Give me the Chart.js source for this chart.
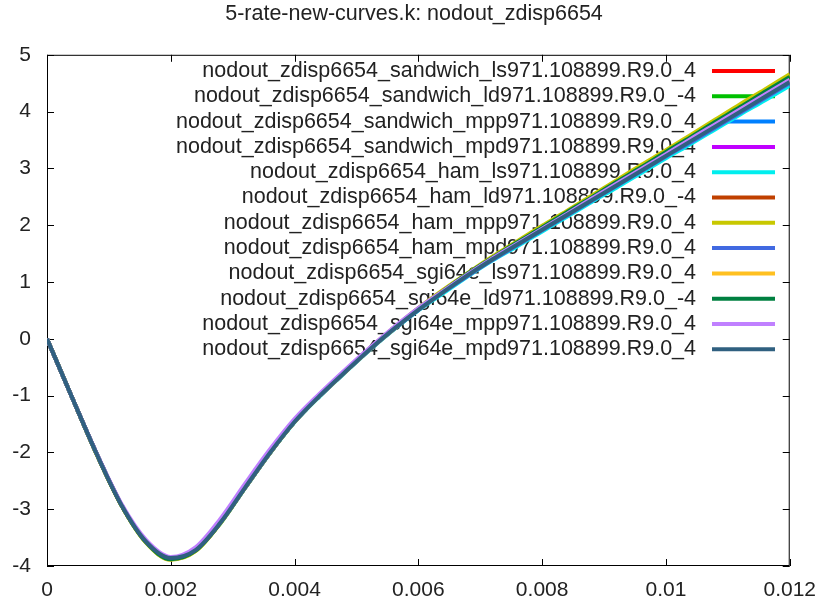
<!DOCTYPE html>
<html>
<head>
<meta charset="utf-8">
<script src="https://cdn.jsdelivr.net/npm/chart.js@4.4.1/dist/chart.umd.min.js"></script>
<style>
  html, body { margin: 0; padding: 0; background: #fff; }
  #wrap { width: 828px; height: 604px; }
</style>
</head>
<body>
<div id="wrap"><canvas id="myChart" width="828" height="604"></canvas></div>
<script>
// time axis (s)
var times = [0, 0.0004, 0.0008, 0.0012, 0.0016, 0.0020, 0.0024, 0.0028, 0.0032, 0.0036,
  0.0040, 0.0044, 0.0048, 0.0052, 0.0056, 0.0060, 0.0064, 0.0068, 0.0072, 0.0076,
  0.0080, 0.0084, 0.0088, 0.0092, 0.0096, 0.0100, 0.0104, 0.0108, 0.0112, 0.0116, 0.0120];

// z displacement, one list per run
var sandwichLs  = [0, -1.02, -2.02, -2.92, -3.57, -3.86, -3.72, -3.24, -2.62, -2.01, -1.46, -1.01, -0.60, -0.20, 0.17, 0.51, 0.82, 1.12, 1.40, 1.67, 1.93, 2.19, 2.45, 2.71, 2.97, 3.23, 3.49, 3.75, 4.01, 4.27, 4.53];
var sandwichLd  = [0, -1.02, -2.02, -2.92, -3.57, -3.87, -3.73, -3.24, -2.62, -2.01, -1.46, -1.00, -0.59, -0.19, 0.18, 0.53, 0.84, 1.14, 1.43, 1.69, 1.96, 2.22, 2.49, 2.75, 3.01, 3.28, 3.54, 3.81, 4.07, 4.34, 4.60];
var sandwichMpp = [0, -1.02, -2.02, -2.92, -3.58, -3.88, -3.72, -3.24, -2.62, -2.01, -1.46, -1.01, -0.60, -0.20, 0.17, 0.51, 0.82, 1.12, 1.40, 1.66, 1.92, 2.18, 2.44, 2.70, 2.96, 3.22, 3.48, 3.74, 4.00, 4.26, 4.52];
var sandwichMpd = [0, -1.02, -2.02, -2.92, -3.57, -3.86, -3.72, -3.24, -2.62, -2.01, -1.46, -1.01, -0.60, -0.20, 0.17, 0.52, 0.83, 1.13, 1.41, 1.67, 1.93, 2.20, 2.46, 2.72, 2.98, 3.24, 3.50, 3.77, 4.03, 4.29, 4.55];
var hamLs       = [0, -1.02, -2.02, -2.92, -3.57, -3.86, -3.72, -3.25, -2.63, -2.02, -1.47, -1.02, -0.61, -0.21, 0.16, 0.50, 0.80, 1.10, 1.38, 1.63, 1.89, 2.15, 2.41, 2.66, 2.92, 3.18, 3.43, 3.69, 3.95, 4.20, 4.46];
var hamLd       = [0, -1.02, -2.02, -2.92, -3.57, -3.87, -3.72, -3.24, -2.62, -2.01, -1.46, -1.01, -0.60, -0.19, 0.18, 0.52, 0.83, 1.14, 1.42, 1.68, 1.94, 2.21, 2.47, 2.73, 2.99, 3.26, 3.52, 3.78, 4.04, 4.31, 4.57];
var hamMpp      = [0, -1.02, -2.03, -2.93, -3.59, -3.89, -3.74, -3.25, -2.62, -2.01, -1.46, -1.00, -0.59, -0.18, 0.19, 0.54, 0.86, 1.16, 1.45, 1.72, 1.99, 2.25, 2.52, 2.79, 3.06, 3.32, 3.59, 3.86, 4.13, 4.39, 4.66];
var hamMpd      = [0, -1.02, -2.02, -2.92, -3.57, -3.86, -3.72, -3.24, -2.62, -2.01, -1.46, -1.01, -0.60, -0.20, 0.17, 0.51, 0.82, 1.11, 1.39, 1.65, 1.91, 2.17, 2.43, 2.69, 2.95, 3.21, 3.46, 3.72, 3.98, 4.24, 4.50];
var sgiLs       = [0, -1.02, -2.02, -2.92, -3.58, -3.88, -3.73, -3.24, -2.62, -2.01, -1.46, -1.01, -0.60, -0.20, 0.17, 0.52, 0.83, 1.13, 1.41, 1.67, 1.93, 2.19, 2.45, 2.71, 2.97, 3.23, 3.50, 3.76, 4.02, 4.28, 4.54];
var sgiLd       = [0, -1.02, -2.02, -2.92, -3.58, -3.88, -3.73, -3.24, -2.61, -2.00, -1.45, -1.00, -0.59, -0.19, 0.18, 0.53, 0.84, 1.15, 1.43, 1.70, 1.96, 2.23, 2.49, 2.76, 3.02, 3.29, 3.55, 3.82, 4.08, 4.35, 4.61];
var sgiMpp      = [0, -1.02, -2.01, -2.90, -3.54, -3.84, -3.67, -3.17, -2.55, -1.95, -1.41, -0.97, -0.56, -0.17, 0.20, 0.54, 0.84, 1.14, 1.42, 1.68, 1.94, 2.20, 2.47, 2.73, 2.99, 3.25, 3.52, 3.78, 4.04, 4.30, 4.56];
var sgiMpd      = [0, -1.02, -2.02, -2.92, -3.57, -3.86, -3.72, -3.24, -2.62, -2.01, -1.46, -1.01, -0.60, -0.20, 0.17, 0.51, 0.82, 1.12, 1.40, 1.66, 1.92, 2.18, 2.44, 2.70, 2.96, 3.22, 3.48, 3.74, 4.00, 4.26, 4.52];

var names = [
  'nodout_zdisp6654_sandwich_ls971.108899.R9.0_4',
  'nodout_zdisp6654_sandwich_ld971.108899.R9.0_-4',
  'nodout_zdisp6654_sandwich_mpp971.108899.R9.0_4',
  'nodout_zdisp6654_sandwich_mpd971.108899.R9.0_4',
  'nodout_zdisp6654_ham_ls971.108899.R9.0_4',
  'nodout_zdisp6654_ham_ld971.108899.R9.0_-4',
  'nodout_zdisp6654_ham_mpp971.108899.R9.0_4',
  'nodout_zdisp6654_ham_mpd971.108899.R9.0_4',
  'nodout_zdisp6654_sgi64e_ls971.108899.R9.0_4',
  'nodout_zdisp6654_sgi64e_ld971.108899.R9.0_-4',
  'nodout_zdisp6654_sgi64e_mpp971.108899.R9.0_4',
  'nodout_zdisp6654_sgi64e_mpd971.108899.R9.0_4'
];
var series = [sandwichLs, sandwichLd, sandwichMpp, sandwichMpd, hamLs, hamLd, hamMpp, hamMpd, sgiLs, sgiLd, sgiMpp, sgiMpd];
var colors = ['#ff0000', '#00c000', '#0080ff', '#c000ff', '#00eeee', '#c04000',
  '#c8c800', '#4169e1', '#ffc020', '#008040', '#c080ff', '#306080'];

var xTickLabels = ['0', '0.002', '0.004', '0.006', '0.008', '0.01', '0.012'];
var yTickLabels = ['-4', '-3', '-2', '-1', '0', '1', '2', '3', '4', '5'];

Chart.defaults.font.family = '"Liberation Sans", Arial, sans-serif';
Chart.defaults.font.size = 21;
Chart.defaults.color = '#222';

// gnuplot style key: text right aligned, line sample on the right, drawn under the curves
var keyPlugin = {
  id: 'gnuKey',
  beforeDatasetsDraw: function(chart) {
    var ctx = chart.ctx;
    ctx.save();
    ctx.font = '21.5px "Liberation Sans", Arial, sans-serif';
    ctx.textAlign = 'right';
    ctx.textBaseline = 'middle';
    chart.data.datasets.forEach(function(ds, i) {
      var y = 71 + i * 25.3;
      ctx.fillStyle = '#222';
      ctx.fillText(ds.label, 696, y);
      ctx.strokeStyle = ds.borderColor;
      ctx.lineWidth = 4;
      ctx.beginPath();
      ctx.moveTo(712, y);
      ctx.lineTo(775, y);
      ctx.stroke();
    });
    ctx.restore();
  }
};

// border box with inward ticks on all four sides
var framePlugin = {
  id: 'frame',
  beforeDatasetsDraw: function(chart) {
    var ctx = chart.ctx, a = chart.chartArea;
    var sx = chart.scales.x, sy = chart.scales.y;
    var len = 7;
    ctx.save();
    ctx.strokeStyle = '#000';
    ctx.lineWidth = 1;
    ctx.strokeRect(a.left + 0.5, a.top + 0.5, a.right - a.left - 1, a.bottom - a.top - 1);
    ctx.beginPath();
    sx.ticks.forEach(function(t) {
      var px = Math.round(sx.getPixelForValue(t.value)) + 0.5;
      ctx.moveTo(px, a.bottom); ctx.lineTo(px, a.bottom - len);
      ctx.moveTo(px, a.top); ctx.lineTo(px, a.top + len);
    });
    sy.ticks.forEach(function(t) {
      var py = Math.round(sy.getPixelForValue(t.value)) + 0.5;
      ctx.moveTo(a.left, py); ctx.lineTo(a.left + len, py);
      ctx.moveTo(a.right, py); ctx.lineTo(a.right - len, py);
    });
    ctx.stroke();
    ctx.restore();
  }
};

var datasets = series.map(function(vals, i) {
  return {
    label: names[i],
    data: times.map(function(t, j) { return { x: t, y: vals[j] }; }),
    borderColor: colors[i],
    backgroundColor: colors[i],
    borderWidth: 4,
    pointRadius: 0,
    fill: false,
    cubicInterpolationMode: 'monotone',
    order: series.length - 1 - i   // last run drawn on top, like gnuplot
  };
});

var ctx = document.getElementById('myChart');
var myChart = new Chart(ctx, {
  type: 'line',
  data: { datasets: datasets },
  options: {
    responsive: false,
    animation: false,
    layout: { padding: { left: 0, right: 0, top: 0, bottom: 0 } },
    plugins: {
      legend: { display: false },
      tooltip: { enabled: false },
      title: {
        display: true,
        text: '5-rate-new-curves.k: nodout_zdisp6654',
        color: '#222',
        font: { size: 21.5, weight: 'normal' },
        padding: { top: 1, bottom: 28 }
      }
    },
    scales: {
      x: {
        type: 'linear',
        min: 0,
        max: 0.012,
        ticks: {
          stepSize: 0.002,
          padding: 12,
          maxRotation: 0,
          color: '#222',
          callback: function(v, i) { return xTickLabels[i]; }
        },
        grid: { display: false, drawTicks: false },
        border: { display: false },
        afterFit: function(s) { s.height = 38; }
      },
      y: {
        min: -4,
        max: 5,
        ticks: {
          stepSize: 1,
          padding: 16,
          color: '#222',
          callback: function(v, i) { return yTickLabels[i]; }
        },
        grid: { display: false, drawTicks: false },
        border: { display: false },
        afterFit: function(s) { s.width = 47; }
      },
      y2: {
        position: 'right',
        min: -4,
        max: 5,
        ticks: { display: false },
        grid: { display: false, drawTicks: false },
        border: { display: false },
        afterFit: function(s) { s.width = 29; }
      }
    }
  },
  plugins: [framePlugin, keyPlugin]
});
</script>
</body>
</html>
